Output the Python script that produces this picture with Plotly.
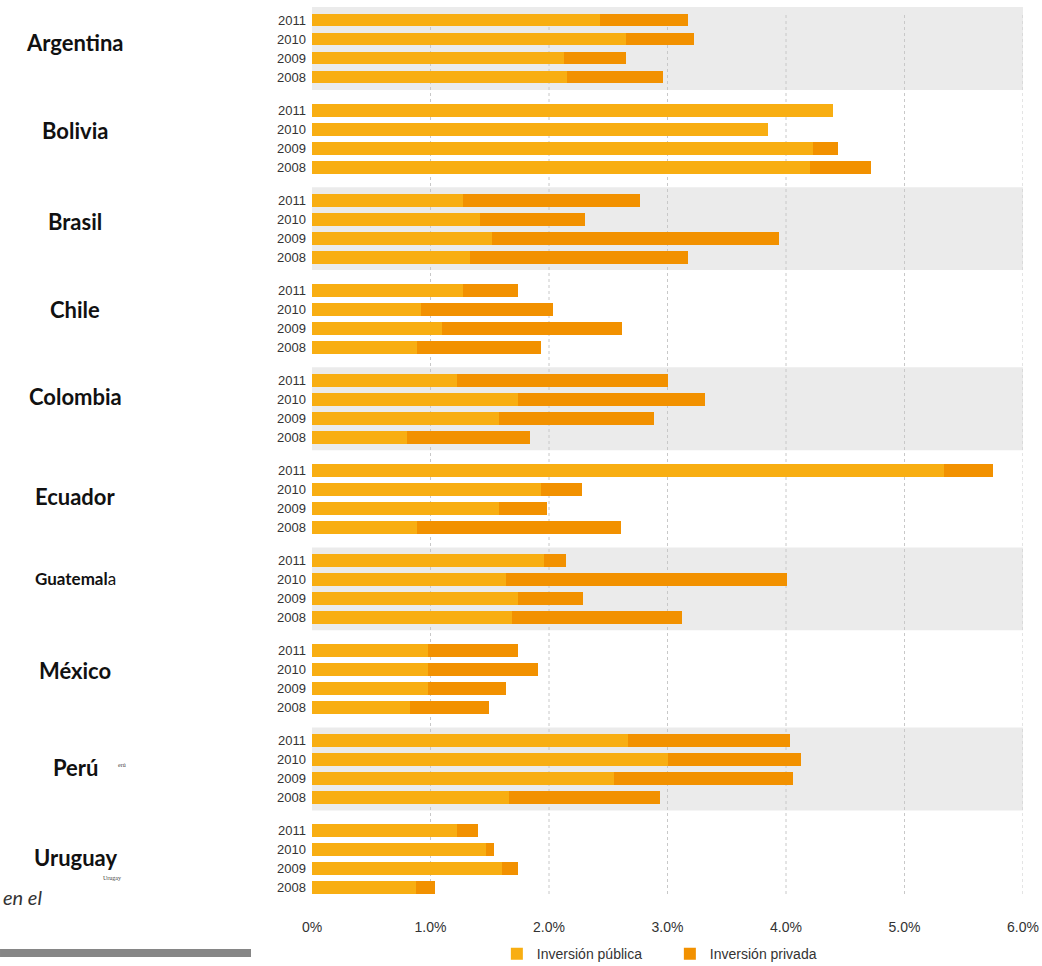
import plotly.graph_objects as go

countries = ["Argentina", "Bolivia", "Brasil", "Chile", "Colombia",
             "Ecuador", "Guatemala", "México", "Perú", "Uruguay"]
years = ["2011", "2010", "2009", "2008"]

# Inversión pública (% PIB), per country in order of years above
public_inv = [
    2.43, 2.65, 2.13, 2.15,   # Argentina
    4.40, 3.85, 4.23, 4.20,   # Bolivia
    1.27, 1.42, 1.52, 1.33,   # Brasil
    1.27, 0.92, 1.10, 0.89,   # Chile
    1.22, 1.74, 1.58, 0.80,   # Colombia
    5.33, 1.93, 1.58, 0.89,   # Ecuador
    1.96, 1.64, 1.74, 1.69,   # Guatemala
    0.98, 0.98, 0.98, 0.83,   # México
    2.67, 3.00, 2.55, 1.66,   # Perú
    1.22, 1.47, 1.60, 0.88,   # Uruguay
]
# Inversión privada (% PIB)
private_inv = [
    0.74, 0.57, 0.52, 0.81,
    0.00, 0.00, 0.21, 0.52,
    1.50, 0.88, 2.42, 1.84,
    0.47, 1.11, 1.52, 1.04,
    1.78, 1.58, 1.31, 1.04,
    0.42, 0.35, 0.40, 1.72,
    0.18, 2.37, 0.55, 1.43,
    0.76, 0.93, 0.66, 0.66,
    1.36, 1.13, 1.51, 1.28,
    0.18, 0.07, 0.14, 0.16,
]
x_ticks = [0, 1, 2, 3, 4, 5, 6]
x_ticktext = ["0%", "1.0%", "2.0%", "3.0%", "4.0%", "5.0%", "6.0%"]
series_names = ["Inversión pública", "Inversión privada"]

# ---- layout helpers (positions, not data) ----
GROUP_STEP = 4.74
label_offset = [1.16, 1.05, 1.10, 1.04, 0.88, 1.40, 0.93, 1.08, 1.40, 1.44]

ypos = []
ylabels = []
for g, c in enumerate(countries):
    for r, yr in enumerate(years):
        ypos.append(g * GROUP_STEP + r)
        ylabels.append(yr)

C_PUB = "#F8AE12"
C_PRIV = "#F29100"
TXT = "#333333"
SANS = "Liberation Sans, Arial, sans-serif"

fig = go.Figure()
fig.add_trace(go.Bar(y=ypos, x=public_inv, orientation="h", width=0.68,
                     name=series_names[0], marker=dict(color=C_PUB, line=dict(width=0))))
fig.add_trace(go.Bar(y=ypos, x=private_inv, orientation="h", width=0.68,
                     name=series_names[1], marker=dict(color=C_PRIV, line=dict(width=0))))

shapes = []
# alternating grey bands
for g in range(0, len(countries), 2):
    shapes.append(dict(type="rect", xref="x", yref="y", x0=0, x1=6,
                       y0=g * GROUP_STEP - 0.68, y1=g * GROUP_STEP + 3 + 0.68,
                       fillcolor="#EBEBEB", line=dict(width=0), layer="below"))
# dotted gridlines
for t in x_ticks[1:]:
    shapes.append(dict(type="line", xref="x", yref="y", x0=t, x1=t,
                       y0=-0.263, y1=46.05,
                       line=dict(color="#C8C8C8", width=1, dash="dot"), layer="below"))
# grey rule bottom-left
shapes.append(dict(type="rect", xref="paper", yref="paper",
                   x0=-0.4388, x1=-0.0858, y0=-0.0698, y1=-0.0608,
                   fillcolor="#868686", line=dict(width=0), layer="above"))

annotations = []
for g, c in enumerate(countries):
    if c == "Guatemala":
        txt = "<b>Guatemal</b>a"
        size = 17
    else:
        txt = "<b>" + c + "</b>"
        size = 22
    annotations.append(dict(xref="paper", yref="y", x=0, xshift=-237,
                            y=g * GROUP_STEP + label_offset[g],
                            text=txt, showarrow=False, xanchor="center", yanchor="middle",
                            font=dict(family="Lato, sans-serif", size=size, color="#111111")))
# small stray texts
annotations.append(dict(xref="paper", yref="y", x=0, xshift=-190,
                        y=8 * GROUP_STEP + 1.3, text="erú", showarrow=False,
                        xanchor="center", yanchor="middle",
                        font=dict(family="Liberation Serif, serif", size=6, color="#444")))
annotations.append(dict(xref="paper", yref="y", x=0, xshift=-200,
                        y=9 * GROUP_STEP + 2.5, text="Urugay", showarrow=False,
                        xanchor="center", yanchor="middle",
                        font=dict(family="Liberation Serif, serif", size=6, color="#444")))
annotations.append(dict(xref="paper", yref="paper", x=0, xshift=-268,
                        y=-0.0023, text="<i>en el</i>", showarrow=False,
                        xanchor="right", yanchor="middle",
                        font=dict(family="Lato, sans-serif", size=20, color=TXT)))

fig.update_layout(
    width=1042, height=966,
    margin=dict(l=312, r=19, t=7, b=71, autoexpand=False),
    paper_bgcolor="white", plot_bgcolor="white",
    barmode="stack", bargap=0,
    shapes=shapes, annotations=annotations,
    showlegend=True,
    legend=dict(orientation="h", x=0.26, xanchor="left", y=-0.0665, yanchor="middle",
                font=dict(family=SANS, size=14, color=TXT),
                entrywidth=128, entrywidthmode="pixels",
                bgcolor="rgba(0,0,0,0)", traceorder="normal"),
    xaxis=dict(range=[0, 6], tickvals=x_ticks, ticktext=x_ticktext,
               showgrid=False, zeroline=False, showline=False, ticks="",
               ticklabelstandoff=22,
               tickfont=dict(family=SANS, size=14, color=TXT)),
    yaxis=dict(range=[46.05, -0.684], tickvals=ypos, ticktext=ylabels,
               showgrid=False, zeroline=False, showline=False, ticks="",
               ticklabelstandoff=5,
               tickfont=dict(family=SANS, size=13, color=TXT)),
)

fig.write_html("out.html")
